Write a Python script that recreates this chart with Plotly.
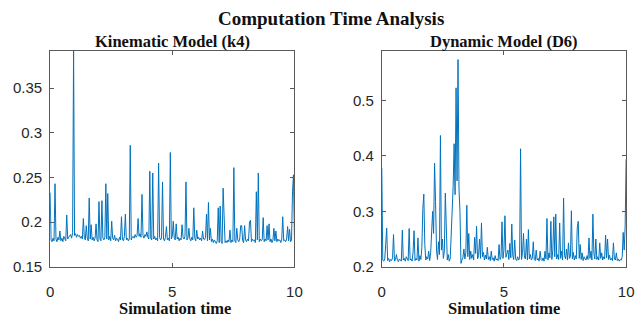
import numpy as np
import plotly.graph_objects as go

# Simulation time: 251 samples from 0 to 10 s
sim_time = np.linspace(0, 10, 251)

# Computation time in thousandths of a second, Kinematic Model (k4)
kinematic_ms = [
    233, 180, 178, 182, 179, 243, 181, 178, 183, 180,
    190, 179, 182, 178, 184, 180, 179, 208, 181, 183,
    184, 186, 182, 188, 392, 185, 187, 183, 186, 184,
    185, 182, 184, 181, 204, 183, 180, 196, 182, 179,
    227, 181, 197, 180, 183, 179, 182, 198, 180, 178,
    223, 181, 179, 224, 182, 180, 183, 243, 181, 232,
    180, 184, 179, 201, 182, 180, 185, 179, 182, 181,
    178, 183, 180, 206, 181, 179, 184, 209, 180, 182,
    179, 181, 286, 180, 183, 184, 182, 186, 183, 185,
    204, 184, 187, 183, 231, 185, 182, 186, 184, 189,
    183, 181, 257, 182, 180, 255, 181, 184, 180, 182,
    179, 266, 183, 180, 182, 245, 181, 179, 183, 195,
    180, 182, 179, 278, 181, 184, 201, 182, 180, 198,
    181, 183, 179, 182, 180, 197, 183, 181, 184, 245,
    180, 182, 193, 181, 179, 183, 180, 216, 182, 179,
    191, 181, 183, 180, 182, 179, 190, 181, 180, 183,
    209, 179, 222, 180, 193, 178, 181, 177, 180, 178,
    176, 179, 216, 177, 218, 178, 176, 238, 198, 177,
    179, 177, 180, 178, 191, 177, 180, 178, 261, 179,
    177, 193, 180, 178, 181, 196, 196, 179, 177, 196,
    180, 178, 181, 179, 200, 202, 178, 181, 179, 180,
    177, 234, 180, 255, 178, 181, 179, 180, 205, 178,
    181, 179, 196, 180, 198, 178, 181, 177, 180, 193,
    179, 190, 178, 181, 179, 180, 177, 181, 206, 179,
    180, 178, 181, 195, 179, 192, 178, 180, 234, 253,
    181,
]

# Computation time in thousandths of a second, Dynamic Model (D6)
dynamic_ms = [
    378, 212, 210, 214, 240, 270, 211, 215, 209, 213,
    211, 216, 258, 210, 213, 222, 211, 209, 214, 212,
    210, 266, 212, 215, 210, 218, 213, 211, 269, 212,
    214, 210, 226, 265, 211, 215, 212, 252, 210, 220,
    213, 235, 305, 331, 240, 212, 218, 214, 228, 211,
    225, 280, 300, 260, 387, 318, 230, 213, 245, 222,
    437, 230, 250, 215, 228, 333, 240, 212, 222, 210,
    214, 250, 300, 345, 422, 330, 523, 355, 574, 340,
    300, 206, 212, 216, 232, 214, 225, 311, 218, 260,
    213, 228, 215, 222, 212, 253, 224, 273, 214, 220,
    250, 215, 279, 218, 226, 212, 221, 214, 235, 213,
    218, 211, 228, 213, 216, 210, 220, 212, 214, 211,
    240, 213, 218, 281, 215, 230, 292, 217, 224, 230,
    213, 242, 216, 277, 220, 213, 248, 214, 211, 218,
    212, 215, 413, 213, 226, 260, 216, 214, 250, 212,
    267, 214, 222, 212, 215, 245, 213, 211, 230, 212,
    215, 210, 228, 213, 211, 216, 210, 228, 214, 287,
    212, 225, 216, 282, 213, 230, 290, 218, 295, 214,
    222, 213, 279, 215, 228, 212, 324, 220, 214, 232,
    212, 243, 215, 218, 301, 214, 226, 212, 220, 214,
    270, 282, 215, 240, 213, 225, 211, 218, 214, 212,
    220, 213, 252, 215, 228, 212, 295, 224, 214, 250,
    213, 218, 212, 243, 215, 225, 212, 218, 214, 257,
    216, 250, 213, 221, 212, 215, 211, 243, 214, 212,
    225, 211, 214, 210, 213, 212, 218, 262, 230, 273,
    394,
]

kin_yticks = [0.15, 0.2, 0.25, 0.3, 0.35]
kin_yticklabels = ["0.15", "0.2", "0.25", "0.3", "0.35"]
dyn_yticks = [0.2, 0.3, 0.4, 0.5]
dyn_yticklabels = ["0.2", "0.3", "0.4", "0.5"]
xticks = [0, 5, 10]
xticklabels = ["0", "5", "10"]

main_title = "Computation Time Analysis"
sub_titles = ["Kinematic Model (k4)", "Dynamic Model (D6)"]
x_title = "Simulation time"

W, H = 641, 322
LINE = "#0072BD"
AX = "#5a5a5a"
SERIF = "Liberation Serif"
SANS = "Liberation Sans, Arial, sans-serif"

kin = np.array(kinematic_ms) / 1000.0
dyn = np.array(dynamic_ms) / 1000.0

fig = go.Figure()
fig.add_trace(go.Scatter(x=sim_time, y=kin, mode="lines",
                         line=dict(color=LINE, width=1), xaxis="x", yaxis="y",
                         showlegend=False))
fig.add_trace(go.Scatter(x=sim_time, y=dyn, mode="lines",
                         line=dict(color=LINE, width=1), xaxis="x2", yaxis="y2",
                         showlegend=False))

def px_x(p):
    return p / W

def px_y(p):
    return 1 - p / H

common = dict(showline=True, linecolor=AX, linewidth=1, mirror="ticks",
              ticks="inside", ticklen=4, tickcolor=AX, tickwidth=1,
              showgrid=False, zeroline=False,
              tickfont=dict(family=SANS, size=15, color="#262626"))

fig.update_layout(
    width=W, height=H, margin=dict(l=0, r=0, t=0, b=0),
    paper_bgcolor="white", plot_bgcolor="white",
    xaxis=dict(domain=[px_x(47), px_x(296)], range=[0, 10], anchor="y",
               tickvals=xticks, ticktext=xticklabels, ticklabelstandoff=11, **common),
    yaxis=dict(domain=[px_y(273.5), px_y(52)], range=[0.15, 0.392], anchor="x",
               tickvals=kin_yticks, ticktext=kin_yticklabels, ticklabelstandoff=4, **common),
    xaxis2=dict(domain=[px_x(385), px_x(634)], range=[0, 10], anchor="y2",
                tickvals=xticks, ticktext=xticklabels, ticklabelstandoff=11, **common),
    yaxis2=dict(domain=[px_y(273.5), px_y(52)], range=[0.2, 0.59], anchor="x2",
                tickvals=dyn_yticks, ticktext=dyn_yticklabels, ticklabelstandoff=4, **common),
)

bold = dict(family=SERIF, color="#111111")
annos = [
    ("<b>%s</b>" % main_title, 333, 18.5, 19),
    ("<b>%s</b>" % sub_titles[0], 172, 43, 16.5),
    ("<b>%s</b>" % sub_titles[1], 510, 43, 16.5),
    ("<b>%s</b>" % x_title, 174, 316, 16.5),
    ("<b>%s</b>" % x_title, 510, 316, 16.5),
]
for text, x, y, size in annos:
    fig.add_annotation(text=text, x=px_x(x), y=px_y(y), xref="paper", yref="paper",
                       xanchor="center", yanchor="middle", showarrow=False,
                       borderpad=0, font=dict(size=size, **bold))

fig.write_html("out.html")
